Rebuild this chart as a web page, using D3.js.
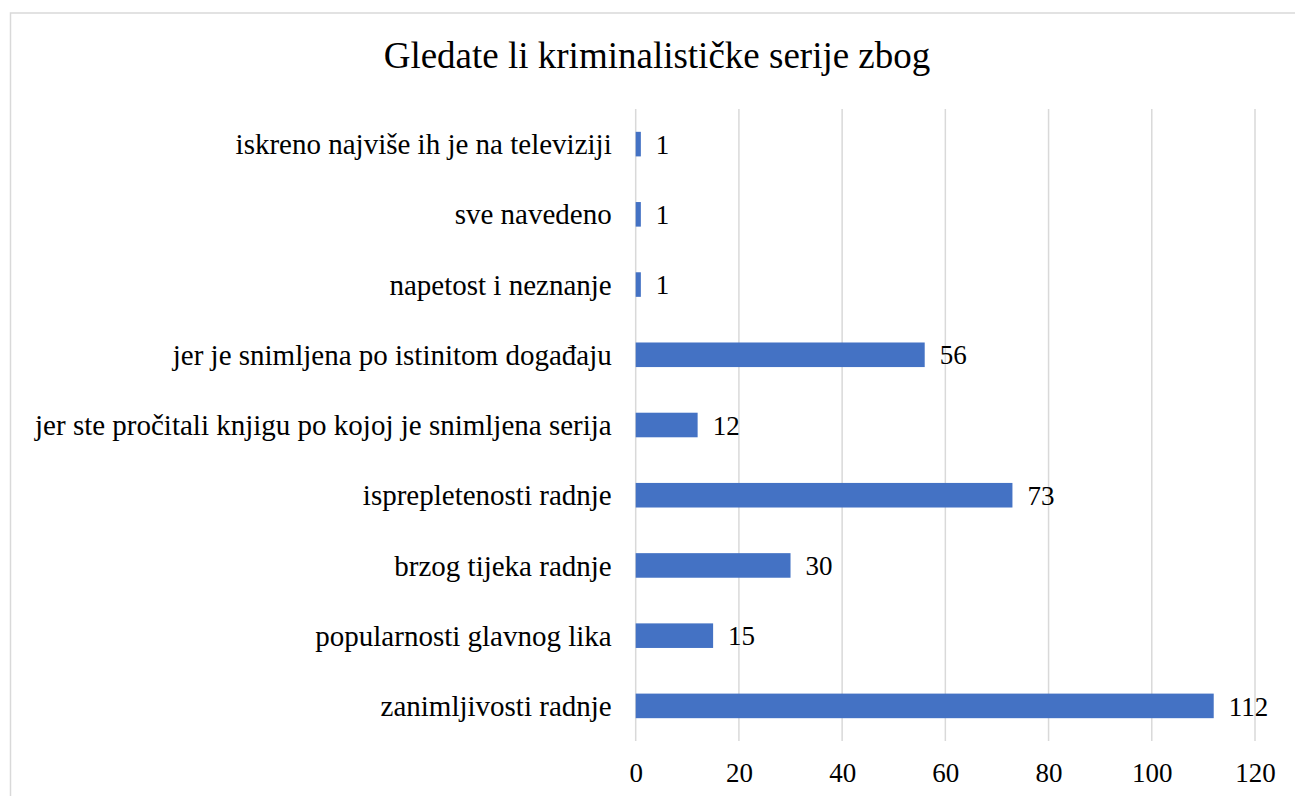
<!DOCTYPE html>
<html>
<head>
<meta charset="utf-8">
<script src="https://cdn.jsdelivr.net/npm/d3@7"></script>
<style>
  html, body { margin: 0; padding: 0; background: #fff; }
  text { font-family: "Liberation Serif", "Times New Roman", serif; fill: #000; }
</style>
</head>
<body>
<svg id="chart"></svg>
<script>
let w = 1295;
let h = 796;

// data, top to bottom as shown
let categories = [
  "iskreno najviše ih je na televiziji",
  "sve navedeno",
  "napetost i neznanje",
  "jer je snimljena po istinitom događaju",
  "jer ste pročitali knjigu po kojoj je snimljena serija",
  "isprepletenosti radnje",
  "brzog tijeka radnje",
  "popularnosti glavnog lika",
  "zanimljivosti radnje"
];
let values = [1, 1, 1, 56, 12, 73, 30, 15, 112];
let xTicks = [0, 20, 40, 60, 80, 100, 120];
let title = "Gledate li kriminalističke serije zbog";

let svg = d3.select("#chart")
  .attr("width", w)
  .attr("height", h);

// outer chart border (runs off the right and bottom of the picture)
svg.append("rect")
  .attr("x", 10.5)
  .attr("y", 13)
  .attr("width", 1300)
  .attr("height", 800)
  .attr("fill", "none")
  .attr("stroke", "#d9d9d9")
  .attr("stroke-width", 1.5);

let plotLeft = 635.7;
let plotRight = 1255;
let plotTop = 109;
let plotBottom = 741;

let xScale = d3.scaleLinear()
  .domain([0, 120])
  .range([plotLeft, plotRight]);

let yScale = d3.scaleBand()
  .domain(categories)
  .range([plotTop, plotBottom])
  .paddingInner(0.65)
  .paddingOuter(0.325);

// gridlines
svg.append("g")
  .selectAll("line")
  .data(xTicks)
  .enter()
  .append("line")
  .attr("x1", (d) => xScale(d))
  .attr("x2", (d) => xScale(d))
  .attr("y1", plotTop)
  .attr("y2", plotBottom)
  .attr("stroke", "#d9d9d9")
  .attr("stroke-width", 1.5);

// x axis tick labels
let xAxis = d3.axisBottom(xScale)
  .tickValues(xTicks)
  .tickSize(0)
  .tickPadding(0);

svg.append("g")
  .attr("transform", `translate(0, ${plotBottom})`)
  .call(xAxis)
  .call((g) => g.select(".domain").remove())
  .selectAll("text")
  .attr("y", 40.5)
  .attr("dy", 0)
  .style("font-family", "Liberation Serif")
  .style("font-size", "27px")
  .attr("fill", "#000");

// y axis labels
let yAxis = d3.axisLeft(yScale)
  .tickSize(0)
  .tickPadding(24);

svg.append("g")
  .attr("transform", `translate(${plotLeft}, 0)`)
  .call(yAxis)
  .call((g) => g.select(".domain").remove())
  .selectAll("text")
  .attr("dy", "0.35em")
  .style("font-family", "Liberation Serif")
  .style("font-size", "29px")
  .attr("fill", "#000");

// bars
svg.selectAll("rect.bar")
  .data(values)
  .enter()
  .append("rect")
  .attr("class", "bar")
  .attr("x", xScale(0))
  .attr("y", (d, i) => yScale(categories[i]))
  .attr("width", (d) => xScale(d) - xScale(0))
  .attr("height", yScale.bandwidth())
  .attr("fill", "#4472c4");

// value labels
svg.selectAll("text.val")
  .data(values)
  .enter()
  .append("text")
  .attr("class", "val")
  .attr("x", (d) => xScale(d) + 15)
  .attr("y", (d, i) => yScale(categories[i]) + yScale.bandwidth() / 2)
  .attr("dy", "0.36em")
  .style("font-size", "27px")
  .text((d) => d);

// title
svg.append("text")
  .attr("x", 657)
  .attr("y", 67.5)
  .attr("text-anchor", "middle")
  .style("font-size", "37px")
  .text(title);
</script>
</body>
</html>
